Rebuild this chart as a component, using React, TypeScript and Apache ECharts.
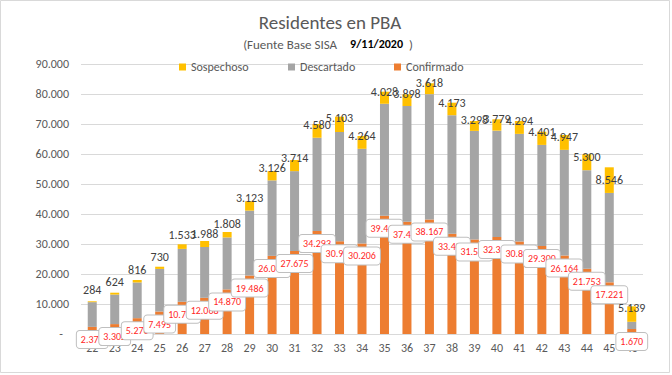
import React, { useEffect, useRef } from "react";
import * as echarts from "echarts";

const categories = ["22","23","24","25","26","27","28","29","30","31","32","33","34","35","36","37","38","39","40","41","42","43","44","45","46"];
const confirmado = [2375,3302,5276,7495,10750,12068,14870,19486,26040,27675,34293,30912,30206,39415,37418,38167,33402,31534,32318,30845,29300,26164,21753,17221,1670];
const descartado = [8240,9840,11910,14200,17620,16940,17320,21640,25160,26610,31130,36420,31530,37330,38580,41790,39530,36170,35470,35860,33730,35220,32850,29800,2400];
const sospechoso = [284,624,816,730,1533,1988,1808,3123,3126,3714,4580,5103,4264,4028,3898,3618,4173,3298,3779,4294,4401,4947,5300,8546,5139];
// vertical nudge (px) of the Sospechoso value labels relative to the segment top
const sospLabelNudge = [-11,-11,-10,-10,-9,-7,-8,-3,-3,-2,1,1,0,0,0,0,0,-1,0,0,0,2,3,13,2];

const FONT = "Carlito, Calibri, Lato, sans-serif";
const fmt = (v: number) => String(Math.round(v)).replace(/\B(?=(\d{3})+(?!\d))/g, ".");

export default function App() {
  const ref = useRef<HTMLDivElement>(null);
  useEffect(() => {
    if (!ref.current) return;
    const chart = echarts.init(ref.current, null, { renderer: "svg" });
    const legendBase = {
      top: 61,
      padding: 0,
      itemWidth: 7,
      itemHeight: 7,
      icon: "rect",
      textStyle: { fontSize: 12, color: "#595959", fontFamily: FONT },
    };
    chart.setOption({
      animation: false,
      backgroundColor: "#ffffff",
      textStyle: { fontFamily: FONT },
      graphic: [
        {
          type: "rect",
          shape: { x: 0.5, y: 0.5, width: 669, height: 372 },
          style: { fill: "none", stroke: "#d9d9d9", lineWidth: 1 },
          silent: true,
        },
        {
          type: "text",
          x: 330,
          y: 22,
          style: {
            text: "Residentes en PBA",
            fontSize: 19,
            fontFamily: FONT,
            fill: "#595959",
            align: "center",
            verticalAlign: "middle",
          },
        },
        {
          type: "text",
          x: 328,
          y: 44,
          style: {
            text: "{a|(Fuente Base SISA}{b|9/11/2020}{a| )}",
            fontFamily: FONT,
            align: "center",
            verticalAlign: "middle",
            rich: {
              a: { fontSize: 13, fill: "#595959", fontFamily: FONT },
              b: { fontSize: 12, fill: "#000000", fontWeight: "bold", fontFamily: FONT, padding: [0, 3, 0, 13] },
            },
          },
        },
      ],
      legend: [
        { ...legendBase, left: 179, data: ["Sospechoso"] },
        { ...legendBase, left: 288, data: ["Descartado"] },
        { ...legendBase, left: 394, data: ["Confirmado"] },
      ],
      grid: { left: 81, right: 29, top: 64, bottom: 41, containLabel: false },
      xAxis: {
        type: "category",
        data: categories,
        axisLine: { show: true, lineStyle: { color: "#d9d9d9" } },
        axisTick: { show: false },
        axisLabel: { color: "#595959", fontSize: 12, margin: 8, fontFamily: FONT },
      },
      yAxis: {
        type: "value",
        min: 0,
        max: 90000,
        interval: 10000,
        axisLine: { show: false },
        axisTick: { show: false },
        splitLine: { lineStyle: { color: "#d9d9d9" } },
        axisLabel: {
          color: "#595959",
          fontSize: 12,
          margin: 12,
          fontFamily: FONT,
          formatter: (v: number) => (v === 0 ? "{z|-}" : fmt(v)),
          rich: { z: { color: "#595959", fontSize: 12, padding: [0, 6, 0, 0] } },
        },
      },
      series: [
        {
          name: "Confirmado",
          type: "bar",
          stack: "t",
          barWidth: 9,
          itemStyle: { color: "#ED7D31" },
          data: confirmado,
          z: 2,
          label: {
            show: true,
            position: "insideTop",
            distance: 4,
            formatter: (p: any) => fmt(p.value),
            color: "#ff1f1f",
            fontSize: 10,
            lineHeight: 11,
            fontFamily: FONT,
            backgroundColor: "#ffffff",
            borderColor: "#bfbfbf",
            borderWidth: 1,
            borderRadius: 3,
            padding: [3, 4],
          },
        },
        {
          name: "Descartado",
          type: "bar",
          stack: "t",
          barWidth: 9,
          itemStyle: { color: "#A5A5A5" },
          data: descartado,
        },
        {
          name: "Sospechoso",
          type: "bar",
          stack: "t",
          barWidth: 9,
          itemStyle: { color: "#FFC000" },
          data: sospechoso.map((v, i) => ({
            value: v,
            label: { offset: [0, sospLabelNudge[i]] },
          })),
          label: {
            show: true,
            position: ["50%", 0],
            align: "center",
            verticalAlign: "middle",
            formatter: (p: any) => fmt(p.value),
            color: "#404040",
            fontSize: 12,
            fontFamily: FONT,
          },
        },
      ],
    });
    return () => chart.dispose();
  }, []);
  return <div ref={ref} style={{ position: "absolute", left: 0, top: 0, width: 672, height: 375 }} />;
}
